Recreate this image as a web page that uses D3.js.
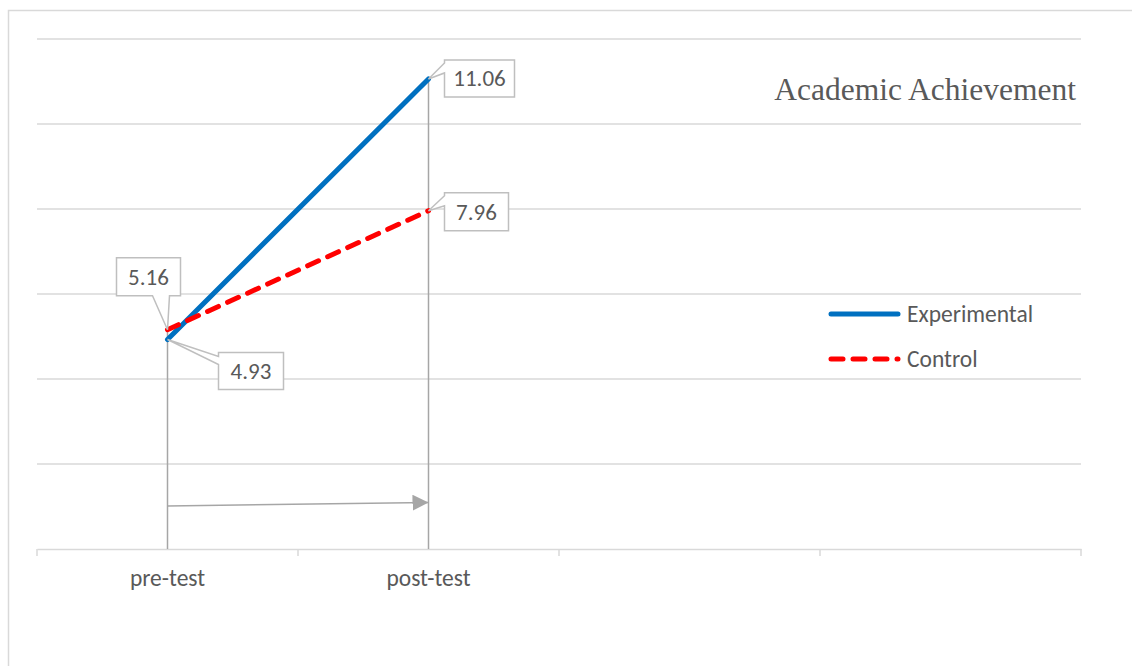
<!DOCTYPE html>
<html>
<head>
<meta charset="utf-8">
<script src="https://cdn.jsdelivr.net/npm/d3@7"></script>
<style>
  html, body { margin: 0; padding: 0; background: #fff; }
  svg { display: block; }
</style>
</head>
<body>
<svg id="chart" width="1132" height="666"></svg>
<script>
// Category slots along the x axis (the last two are left blank)
const categories = ["pre-test", "post-test", "", ""];
const seriesNames = ["Experimental", "Control"];
const experimental = [4.93, 11.06];
const control = [5.16, 7.96];
const yTicks = [0, 2, 4, 6, 8, 10, 12];
const chartTitle = "Academic Achievement";

const svg = d3.select("#chart");
const plot = { left: 37, right: 1081, top: 39, bottom: 549 };

const x = d3.scaleBand().domain(d3.range(categories.length))
  .range([plot.left, plot.right]).padding(0);
const y = d3.scaleLinear().domain([0, 12]).range([plot.bottom, plot.top]);
const cx = i => x(i) + x.bandwidth() / 2;

const gridColor = "#d9d9d9";
const textColor = "#595959";
const sansFont = "Carlito, Lato, 'Liberation Sans', sans-serif";

// chart frame
svg.append("rect")
  .attr("x", 8.5).attr("y", 10.5).attr("width", 1140).attr("height", 700)
  .attr("fill", "none").attr("stroke", gridColor).attr("stroke-width", 1.5);

// horizontal gridlines
svg.append("g").selectAll("line")
  .data(yTicks.filter(t => t > 0))
  .join("line")
  .attr("x1", plot.left).attr("x2", plot.right)
  .attr("y1", d => y(d)).attr("y2", d => y(d))
  .attr("stroke", gridColor).attr("stroke-width", 1.5);

// category axis
const xAxis = d3.axisBottom(x).tickSize(0).tickFormat(i => categories[i]);
const axisG = svg.append("g")
  .attr("transform", `translate(0,${plot.bottom})`)
  .call(xAxis);
axisG.select(".domain").attr("stroke", gridColor).attr("stroke-width", 1.5);
axisG.selectAll("text")
  .attr("dy", 0).attr("y", 37)
  .attr("fill", textColor)
  .style("font-family", sansFont).style("font-size", "23.5px");
// tick marks at the category boundaries
svg.append("g").selectAll("line")
  .data(d3.range(categories.length + 1))
  .join("line")
  .attr("x1", i => plot.left + i * x.bandwidth())
  .attr("x2", i => plot.left + i * x.bandwidth())
  .attr("y1", plot.bottom).attr("y2", plot.bottom + 7)
  .attr("stroke", gridColor).attr("stroke-width", 1.5);

// drop lines from each point to the axis
const dropTop = [0, 1].map(i => Math.min(y(experimental[i]), y(control[i])));
svg.append("g").selectAll("line")
  .data([0, 1])
  .join("line")
  .attr("x1", i => cx(i)).attr("x2", i => cx(i))
  .attr("y1", i => dropTop[i]).attr("y2", plot.bottom)
  .attr("stroke", "#a6a6a6").attr("stroke-width", 1.5);

// arrow from pre-test to post-test
const defs = svg.append("defs");
defs.append("marker")
  .attr("id", "arrowHead")
  .attr("viewBox", "0 0 10 10")
  .attr("refX", 10).attr("refY", 5)
  .attr("markerUnits", "userSpaceOnUse")
  .attr("markerWidth", 16).attr("markerHeight", 16)
  .attr("orient", "auto")
  .append("path").attr("d", "M0,0 L10,5 L0,10 Z").attr("fill", "#a6a6a6");
svg.append("line")
  .attr("x1", cx(0)).attr("y1", 506)
  .attr("x2", cx(1)).attr("y2", 502.5)
  .attr("stroke", "#a6a6a6").attr("stroke-width", 1.5)
  .attr("marker-end", "url(#arrowHead)");

// series lines
const line = d3.line().x((d, i) => cx(i)).y(d => y(d));
svg.append("path").datum(experimental)
  .attr("d", line)
  .attr("fill", "none").attr("stroke", "#0070c0")
  .attr("stroke-width", 5).attr("stroke-linecap", "round");
svg.append("path").datum(control)
  .attr("d", line)
  .attr("fill", "none").attr("stroke", "#ff0000")
  .attr("stroke-width", 5).attr("stroke-linecap", "round")
  .attr("stroke-dasharray", "12,10");

// data label callouts
function callout(px, py, box, wedge) {
  const { l, t, r, b } = box;
  if (wedge.side === "left") {
    return `M${l},${t} H${r} V${b} H${l} V${wedge.b} L${px},${py} L${l},${wedge.a} Z`;
  }
  return `M${l},${t} H${r} V${b} H${wedge.b} L${px},${py} L${wedge.a},${b} H${l} Z`;
}
const labels = [
  { v: experimental[1], i: 1, dx: 16, dy: -19, w: 70, h: 37, wedge: "left" },
  { v: control[1], i: 1, dx: 16, dy: -18, w: 64, h: 38, wedge: "left" },
  { v: control[0], i: 0, dx: -51, dy: -72, w: 64, h: 38, wedge: "bottom" },
  { v: experimental[0], i: 0, dx: 51, dy: 13, w: 65, h: 37, wedge: "left2" }
];
const lg = svg.append("g");
labels.forEach(lb => {
  const px = cx(lb.i), py = y(lb.v);
  const box = { l: px + lb.dx, t: py + lb.dy, r: px + lb.dx + lb.w, b: py + lb.dy + lb.h };
  let wedge;
  if (lb.wedge === "left") wedge = { side: "left", a: box.t + 3, b: box.t + 13 };
  else if (lb.wedge === "left2") wedge = { side: "left", a: box.t + 4, b: box.t + 12 };
  else wedge = { side: "bottom", a: box.l + 36, b: box.l + 53 };
  lg.append("path")
    .attr("d", callout(px, py, box, wedge))
    .attr("fill", "#fff").attr("stroke", "#bfbfbf").attr("stroke-width", 1.5)
    .attr("stroke-linejoin", "miter");
  lg.append("text")
    .attr("x", (box.l + box.r) / 2).attr("y", (box.t + box.b) / 2)
    .attr("text-anchor", "middle").attr("dominant-baseline", "central")
    .attr("fill", textColor)
    .style("font-family", sansFont).style("font-size", "23px")
    .text(lb.v.toFixed(2));
});

// title
svg.append("text")
  .attr("x", 1076).attr("y", 100)
  .attr("text-anchor", "end")
  .attr("fill", textColor)
  .style("font-family", "'Liberation Serif', 'Times New Roman', serif")
  .style("font-size", "31.5px")
  .text(chartTitle);

// legend
const legend = svg.append("g");
const legendItems = [
  { name: seriesNames[0], color: "#0070c0", dash: null, y: 314 },
  { name: seriesNames[1], color: "#ff0000", dash: "12,10", y: 359 }
];
legendItems.forEach(it => {
  legend.append("line")
    .attr("x1", 831).attr("x2", 898)
    .attr("y1", it.y).attr("y2", it.y)
    .attr("stroke", it.color).attr("stroke-width", 5)
    .attr("stroke-linecap", "round")
    .attr("stroke-dasharray", it.dash);
  legend.append("text")
    .attr("x", 907).attr("y", it.y)
    .attr("dominant-baseline", "central")
    .attr("fill", textColor)
    .style("font-family", sansFont).style("font-size", "23.5px")
    .text(it.name);
});
</script>
</body>
</html>
